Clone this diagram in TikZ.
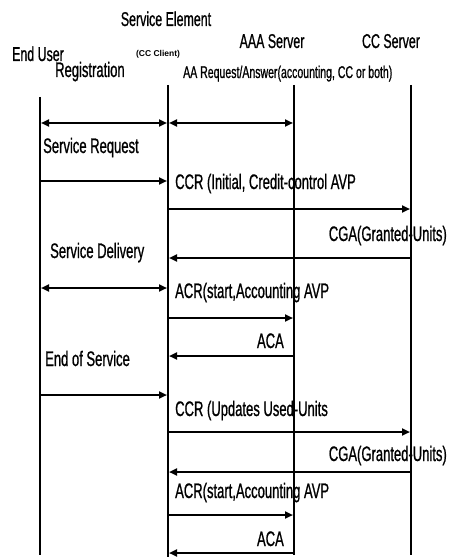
\documentclass[tikz,border=0pt]{standalone}
\usepackage{fontspec}
\setmainfont[FakeStretch=0.62,FakeBold=0.8]{Liberation Sans}
\newfontfamily\clientfont{Liberation Sans}
\usetikzlibrary{arrows.meta}

\begin{document}
\begin{tikzpicture}[x=1pt,y=-1pt,>={Triangle[length=8pt,width=7pt]},
    lifeline/.style={line width=2.4pt},
    msg/.style={->,line width=2.2pt,shorten >=1pt},
    bimsg/.style={<->,line width=2.2pt,shorten >=1pt,shorten <=1pt},
    actor/.style={font=\fontsize{20}{22}\selectfont,inner sep=0pt,anchor=base},
    lbl/.style={font=\fontsize{21}{23}\selectfont,inner sep=0pt,anchor=base west},
    rlbl/.style={lbl,anchor=base east}]
    \useasboundingbox (0,0) rectangle (453,559);

    %%% ENTIDADES %%%
    \node[actor] (seh)  at (166,26) {Service Element};
    \node[actor,font=\clientfont\bfseries\fontsize{8.5}{9}\selectfont] (clh) at (158,57) {(CC Client)};
    \node[actor] (euh)  at (38,61)  {End User};
    \node[actor] (aaah) at (272,48) {AAA Server};
    \node[actor] (cch)  at (391,48) {CC Server};

    % Lineas de vida
    \coordinate (eut)  at (40,97);  \coordinate (eub)  at (40,555);
    \coordinate (set)  at (168,85); \coordinate (seb)  at (168,557);
    \coordinate (aaat) at (294,85); \coordinate (aaab) at (294,555);
    \coordinate (cct)  at (411,85); \coordinate (ccb)  at (411,555);

    %%% ETIQUETAS %%%
    \node[lbl] (reg)   at (55,77)   {Registration};
    \node[lbl,font=\fontsize{17}{19}\selectfont] (aareq) at (183,78) {AA Request/Answer(accounting, CC or both)};
    \node[lbl] (sreq)  at (43,153)  {Service Request};
    \node[lbl] (ccri)  at (175,189) {CCR (Initial, Credit-control AVP};
    \node[rlbl] (cgaa) at (447,241) {CGA(Granted-Units)};
    \node[lbl] (sdel)  at (50,258)  {Service Delivery};
    \node[lbl] (acra)  at (175,298) {ACR(start,Accounting AVP};
    \node[rlbl] (acaa) at (284,348) {ACA};
    \node[lbl] (eos)   at (45,366)  {End of Service};
    \node[lbl] (ccru)  at (175,416) {CCR (Updates Used-Units};
    \node[rlbl] (cgab) at (447,461) {CGA(Granted-Units)};
    \node[lbl] (acrb)  at (175,498) {ACR(start,Accounting AVP};
    \node[rlbl] (acab) at (284,546) {ACA};

    \draw[lifeline] (eut) -- (eub);
    \draw[lifeline] (set) -- (seb);
    \draw[lifeline] (aaat) -- (aaab);
    \draw[lifeline] (cct) -- (ccb);

    %%% MENSAJES %%%
    \foreach \n/\y in {1/123,2/181,3/209,4/258,5/288,6/318,7/356,8/395,9/432,10/472,11/515,12/553} {
        \coordinate (eu\n)  at (40,\y);
        \coordinate (se\n)  at (168,\y);
        \coordinate (aaa\n) at (294,\y);
        \coordinate (cc\n)  at (411,\y);
    }
    \draw[bimsg] (eu1) -- (se1);
    \draw[bimsg] (se1) -- (aaa1);
    \draw[msg] (eu2) -- (se2);
    \draw[msg] (se3) -- (cc3);
    \draw[msg] (cc4) -- (se4);
    \draw[bimsg] (eu5) -- (se5);
    \draw[msg] (se6) -- (aaa6);
    \draw[msg] (aaa7) -- (se7);
    \draw[msg] (eu8) -- (se8);
    \draw[msg] (se9) -- (cc9);
    \draw[msg] (cc10) -- (se10);
    \draw[msg] (se11) -- (aaa11);
    \draw[msg] (aaa12) -- (se12);
\end{tikzpicture}
\end{document}
